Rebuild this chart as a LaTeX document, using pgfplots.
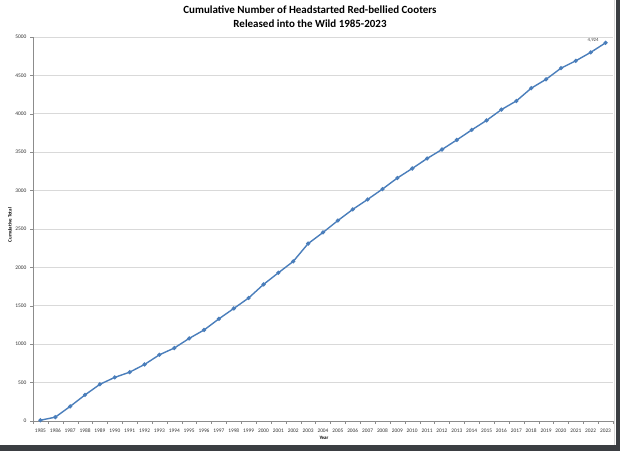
\documentclass[border=0pt]{standalone}
\usepackage{pgfplots}
\pgfplotsset{compat=1.18}
\usepackage{fontspec}
\setmainfont{Carlito}[Numbers=Lining]
\definecolor{excelblue}{HTML}{4A7EBB}
\definecolor{gridgray}{HTML}{D9D9D9}
\definecolor{axisgray}{HTML}{8C8C8C}
\definecolor{framedark}{HTML}{3B3E42}
\pgfplotstableread{
year total
1985 10
1986 50
1987 190
1988 340
1989 478
1990 568
1991 636
1992 736
1993 862
1994 950
1995 1075
1996 1185
1997 1330
1998 1465
1999 1602
2000 1778
2001 1930
2002 2078
2003 2310
2004 2455
2005 2610
2006 2755
2007 2885
2008 3020
2009 3164
2010 3288
2011 3418
2012 3535
2013 3660
2014 3790
2015 3914
2016 4055
2017 4167
2018 4333
2019 4449
2020 4594
2021 4690
2022 4800
2023 4924
}\datatable
\begin{document}
\begin{tikzpicture}[x=1bp,y=1bp]
\useasboundingbox (0,0) rectangle (620,451);
\fill[white] (0,0) rectangle (620,451);
\begin{axis}[
  at={(33bp,30bp)}, anchor=south west,
  scale only axis, width=580bp, height=384bp,
  xmin=1984.5, xmax=2023.5, ymin=0, ymax=5000,
  xtick={1985,...,2023},
  ytick={0,500,...,5000},
  minor xtick={1984.5,1985.5,...,2023.5},
  major x tick style={draw=none},
  minor x tick style={draw=axisgray},
  major y tick style={draw=axisgray},
  tick align=outside, major tick length=3bp, minor tick length=3bp,
  xtick pos=bottom, ytick pos=left,
  ymajorgrids, grid style={gridgray, line width=0.9bp},
  axis line style={axisgray},
  axis lines*=left,
  scaled y ticks=false,
  /pgf/number format/assume math mode=true,
  /pgf/number format/1000 sep={},
  xticklabel style={font=\fontsize{5.4}{6}\selectfont, text=black!80, yshift=-1bp, text height=4bp, text depth=0bp},
  yticklabel style={font=\fontsize{5.5}{6}\selectfont, text=black!80},
  clip=false,
]
\addplot[excelblue, line width=1.4bp, mark=*, mark size=1.3bp, mark options={fill=excelblue, draw=excelblue}] table[x=year, y=total] {\datatable};
\node[anchor=east, font=\fontsize{4.8}{5}\selectfont, text=black!75] at (axis cs:2023,4924) [xshift=-3.5bp, yshift=3bp] {4,924};
\end{axis}
\node[font=\bfseries\fontsize{11}{13}\selectfont] at (310,441) {Cumulative Number of Headstarted Red-bellied Cooters};
\node[font=\bfseries\fontsize{11}{13}\selectfont] at (310,427) {Released into the Wild 1985-2023};
\node[rotate=90, font=\bfseries\fontsize{5}{6}\selectfont] at (10,226) {Cumulative Total};
\node[font=\bfseries\fontsize{5}{6}\selectfont] at (324,13) {Year};
\fill[framedark] (0,0) rectangle (620,6);
\fill[framedark] (616,0) rectangle (620,451);
\draw[gridgray, line width=0.8bp] (614.5,6) -- (614.5,451);
\end{tikzpicture}
\end{document}
